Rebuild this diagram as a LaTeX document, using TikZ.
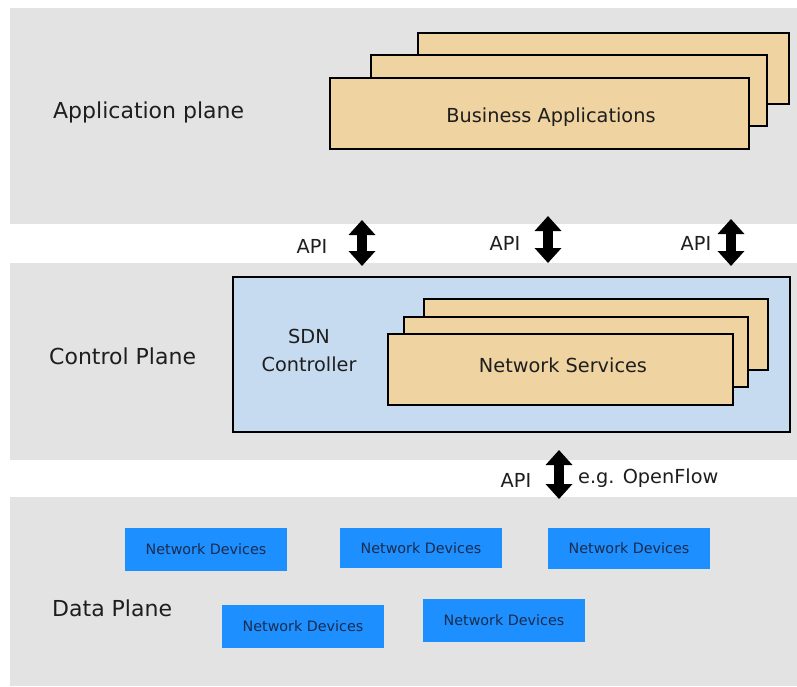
\documentclass[tikz,border=0pt]{standalone}
\usepackage{fontspec}
\setmainfont{DejaVu Sans}
\usetikzlibrary{arrows.meta}
\definecolor{bandgray}{HTML}{E3E3E3}
\definecolor{tanfill}{HTML}{EFD3A0}
\definecolor{ctrlblue}{HTML}{C6DBF0}
\definecolor{devblue}{HTML}{1E8FFF}
\definecolor{devtext}{HTML}{1A2B4C}
\definecolor{txt}{HTML}{1E1E1E}
\begin{document}
\begin{tikzpicture}[x=1pt,y=-1pt,
  band/.style={fill=bandgray, draw=none, inner sep=0pt, outer sep=0pt},
  tanbox/.style={draw=black, line width=1.8pt, fill=tanfill, inner sep=0pt, outer sep=0pt, minimum height=71pt},
  ctrlbox/.style={draw=black, line width=1.8pt, fill=ctrlblue, inner sep=0pt, outer sep=0pt},
  devbox/.style={fill=devblue, draw=none, inner sep=0pt, outer sep=0pt, minimum width=162pt,
    text=devtext, font=\fontsize{14.3}{16}\selectfont, text height=10.4pt, text depth=0pt},
  plabel/.style={anchor=base west, inner sep=0pt, text=txt, font=\fontsize{22}{26}\selectfont},
  mtext/.style={anchor=base, inner sep=0pt, text=txt, font=\fontsize{19.3}{23}\selectfont},
  bigarrow/.style={line width=10pt, {Triangle[width=26pt,length=15pt]}-{Triangle[width=26pt,length=15pt]}}
]
\useasboundingbox[fill=white] (0,0) rectangle (797,686);

% plane bands
\node[band, minimum width=787pt, minimum height=216pt] (appband) at (403.5,116) {};
\node[band, minimum width=787pt, minimum height=197pt] (ctrlband) at (403.5,361.5) {};
\node[band, minimum width=787pt, minimum height=189pt] (databand) at (403.5,591.5) {};

% plane labels
\node[plabel] (applbl) at (53,118) {Application plane};
\node[plabel] (ctrllbl) at (49,364) {Control Plane};
\node[plabel] (datalbl) at (52,616) {Data Plane};

% business applications stack
\node[tanbox, minimum width=371pt] (ba3) at (603.5,68.5) {};
\node[tanbox, minimum width=396pt] (ba2) at (569,90.5) {};
\node[tanbox, minimum width=419pt] (ba1) at (539.5,113.5) {};
\node[mtext] (batxt) at (551,122) {Business Applications};

% SDN controller
\node[ctrlbox, minimum width=557pt, minimum height=155pt] (ctrl) at (511.5,354.5) {};
\node[mtext] (sdn1) at (309,343) {SDN};
\node[mtext] (sdn2) at (309,371) {Controller};
\node[tanbox, minimum width=344pt] (ns3) at (596,334.5) {};
\node[tanbox, minimum width=344pt, minimum height=70pt] (ns2) at (576,352) {};
\node[tanbox, minimum width=345pt] (ns1) at (560.5,369.5) {};
\node[mtext] (nstxt) at (563,372) {Network Services};

% network devices
\node[devbox, minimum height=43pt] (d1) at (206,549.5) {Network Devices};
\node[devbox, minimum height=40pt] (d2) at (421,548) {Network Devices};
\node[devbox, minimum height=41pt] (d3) at (629,548.5) {Network Devices};
\node[devbox, minimum height=43pt] (d4) at (303,626.5) {Network Devices};
\node[devbox, minimum height=43pt] (d5) at (504,620.5) {Network Devices};

% API arrows
\coordinate (a1t) at (362,220); \coordinate (a1b) at (362,266);
\coordinate (a2t) at (548,216); \coordinate (a2b) at (548,263);
\coordinate (a3t) at (731,219); \coordinate (a3b) at (731,266);
\coordinate (a4t) at (559,450); \coordinate (a4b) at (559,499);
\draw[bigarrow] (a1t) -- (a1b);
\draw[bigarrow] (a2t) -- (a2b);
\draw[bigarrow] (a3t) -- (a3b);
\draw[bigarrow] (a4t) -- (a4b);

\node[mtext] (api1) at (312,253) {API};
\node[mtext] (api2) at (505,250) {API};
\node[mtext] (api3) at (696,250) {API};
\node[mtext] (api4) at (516,487) {API};
\node[mtext, anchor=base west] (ofl) at (578,483) {e.g. OpenFlow};
\end{tikzpicture}
\end{document}
